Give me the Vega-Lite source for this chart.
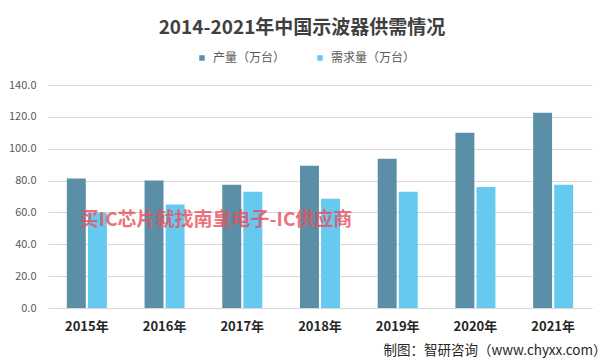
{
  "$schema": "https://vega.github.io/schema/vega-lite/v6.json",
  "width": 544,
  "height": 223,
  "autosize": "none",
  "padding": {"left": 48, "top": 85, "right": 13, "bottom": 56},
  "background": "white",
  "title": {
    "text": "2014-2021年中国示波器供需情况",
    "fontSize": 19,
    "fontWeight": "bold",
    "font": "Noto Sans CJK SC",
    "color": "#404040",
    "anchor": "middle",
    "dx": -18,
    "offset": 14
  },
  "config": {
    "font": "Noto Sans CJK SC",
    "view": {"stroke": null}
  },
  "encoding": {
    "x": {
      "field": "year",
      "type": "nominal",
      "sort": ["2015年", "2016年", "2017年", "2018年", "2019年", "2020年", "2021年"],
      "scale": {"paddingInner": 0.485, "paddingOuter": 0.2425},
      "axis": {
        "labelAngle": 0,
        "domain": true,
        "domainColor": "#d9d9d9",
        "ticks": false,
        "labelFontSize": 13,
        "labelFontWeight": "bold",
        "labelColor": "#262626",
        "labelPadding": 12,
        "title": "制图：智研咨询（www.chyxx.com）",
        "titleAnchor": "end",
        "titleAlign": "right",
        "titleX": 558,
        "titleY": 42,
        "titleBaseline": "middle",
        "titleFontSize": 13.5,
        "titleFontWeight": "normal",
        "titleColor": "#262626"
      }
    },
    "y": {
      "field": "value",
      "type": "quantitative",
      "scale": {"domain": [0, 140], "nice": false},
      "axis": {
        "values": [0, 20, 40, 60, 80, 100, 120, 140],
        "format": ".1f",
        "grid": true,
        "gridColor": "#d9d9d9",
        "domain": false,
        "ticks": false,
        "labelOverlap": false,
        "labelPadding": 12,
        "labelFontSize": 11,
        "labelColor": "#595959",
        "title": null
      }
    }
  },
  "layer": [
    {
      "data": {
        "values": [
          {"year": "2015年", "series": "产量（万台）", "value": 81.3},
          {"year": "2015年", "series": "需求量（万台）", "value": 59.8},
          {"year": "2016年", "series": "产量（万台）", "value": 80.0},
          {"year": "2016年", "series": "需求量（万台）", "value": 64.9},
          {"year": "2017年", "series": "产量（万台）", "value": 77.4},
          {"year": "2017年", "series": "需求量（万台）", "value": 73.0},
          {"year": "2018年", "series": "产量（万台）", "value": 89.3},
          {"year": "2018年", "series": "需求量（万台）", "value": 68.6},
          {"year": "2019年", "series": "产量（万台）", "value": 93.7},
          {"year": "2019年", "series": "需求量（万台）", "value": 73.0},
          {"year": "2020年", "series": "产量（万台）", "value": 110.0},
          {"year": "2020年", "series": "需求量（万台）", "value": 76.0},
          {"year": "2021年", "series": "产量（万台）", "value": 122.6},
          {"year": "2021年", "series": "需求量（万台）", "value": 77.4}
        ]
      },
      "mark": {"type": "bar"},
      "encoding": {
        "xOffset": {
          "field": "series",
          "type": "nominal",
          "sort": ["产量（万台）", "需求量（万台）"],
          "scale": {"paddingInner": 0.1}
        },
        "color": {
          "field": "series",
          "type": "nominal",
          "sort": ["产量（万台）", "需求量（万台）"],
          "scale": {"domain": ["产量（万台）", "需求量（万台）"], "range": ["#5b8fa7", "#66c9ef"]},
          "legend": {
            "orient": "none",
            "legendX": 148,
            "legendY": -33,
            "direction": "horizontal",
            "title": null,
            "symbolType": "square",
            "symbolSize": 30,
            "symbolStrokeWidth": 0,
            "labelFontSize": 12,
            "labelColor": "#595959",
            "labelOffset": 5,
            "columnPadding": 28
          }
        }
      }
    },
    {
      "data": {"values": [{"year": "2015年", "value": 55.4, "note": "买IC芯片就找南皇电子-IC供应商"}]},
      "mark": {"type": "text", "align": "left", "baseline": "middle", "dx": -7, "fontSize": 19, "fontWeight": "bold", "color": "#e8505b", "opacity": 0.8},
      "encoding": {
        "text": {"field": "note"}
      }
    }
  ]
}
